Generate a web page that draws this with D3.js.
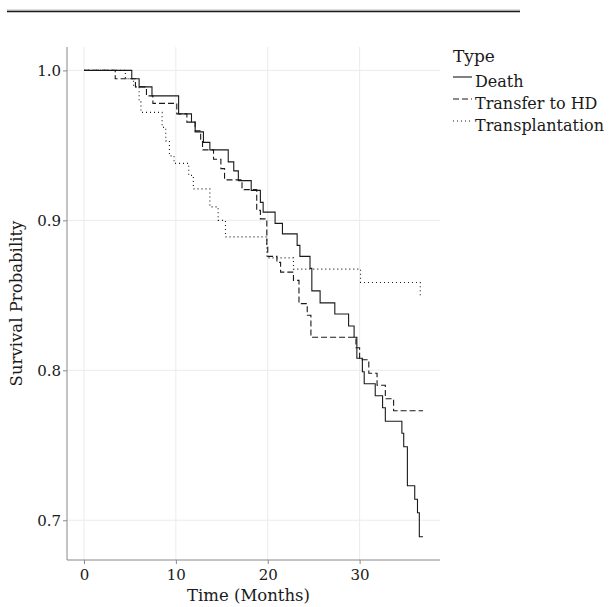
<!DOCTYPE html>
<html>
<head>
<meta charset="utf-8">
<script src="https://cdn.jsdelivr.net/npm/d3@7"></script>
<style>
  body { margin: 0; background: #fff; }
  text { font-family: "DejaVu Serif", serif; fill: #1a1a1a; }
</style>
</head>
<body>
<svg id="chart"></svg>
<script>
// Kaplan-Meier steps: time (months) and survival after each drop
const deathTime = [0, 5.2, 6.0, 7.4, 10.3, 11.7, 12.1, 13.0, 13.7, 15.7, 16.3, 16.8, 18.2, 19.2, 19.5, 20.8, 21.6, 23.2, 23.5, 24.6, 24.8, 25.7, 27.3, 28.8, 29.4, 29.7, 30.3, 30.5, 31.7, 32.5, 32.8, 34.6, 34.8, 35.2, 36.0, 36.3, 36.5, 36.9];
const deathSurv = [1.0, 0.9944, 0.989, 0.983, 0.971, 0.9655, 0.959, 0.952, 0.947, 0.939, 0.933, 0.9265, 0.92, 0.912, 0.9055, 0.898, 0.891, 0.8833, 0.876, 0.868, 0.853, 0.845, 0.8375, 0.8295, 0.822, 0.808, 0.799, 0.791, 0.783, 0.775, 0.766, 0.758, 0.749, 0.723, 0.714, 0.705, 0.689, 0.689];

const hdTime = [0, 3.4, 5.6, 6.8, 7.5, 10.1, 11.2, 12.1, 12.7, 12.9, 14.1, 14.9, 15.3, 17.2, 18.8, 19.2, 19.9, 20.0, 21.0, 21.4, 22.8, 23.4, 24.3, 24.7, 29.6, 30.0, 31.0, 31.9, 32.8, 33.7, 36.9];
const hdSurv = [1.0, 0.9944, 0.989, 0.983, 0.978, 0.971, 0.9655, 0.9597, 0.953, 0.947, 0.9407, 0.9345, 0.927, 0.9205, 0.9067, 0.901, 0.884, 0.876, 0.872, 0.8655, 0.86, 0.8445, 0.8367, 0.822, 0.815, 0.807, 0.798, 0.790, 0.781, 0.773, 0.773];

const txTime = [0, 4.5, 5.4, 6.0, 6.2, 8.5, 8.9, 9.3, 9.8, 11.4, 11.9, 13.7, 14.6, 15.4, 19.9, 22.8, 30.1, 36.6, 36.8];
const txSurv = [1.0, 0.9944, 0.989, 0.979, 0.972, 0.962, 0.953, 0.943, 0.938, 0.930, 0.921, 0.909, 0.900, 0.889, 0.875, 0.8675, 0.8586, 0.8497, 0.8497];

const typeNames = ["Death", "Transfer to HD", "Transplantation"];
const xTicks = [0, 10, 20, 30];
const yTicks = [0.7, 0.8, 0.9, 1.0];

const width = 615, height = 607;

const svg = d3.select("#chart").attr("width", width).attr("height", height);

// journal header rule
svg.append("line").attr("x1", 7).attr("x2", 520).attr("y1", 10).attr("y2", 10)
  .attr("stroke", "#bbb").attr("stroke-width", 1);
svg.append("line").attr("x1", 7).attr("x2", 520).attr("y1", 11.5).attr("y2", 11.5)
  .attr("stroke", "#1a1a1a").attr("stroke-width", 1.5);

const x = d3.scaleLinear().domain([-1.85, 38.75]).range([67, 440]);
const y = d3.scaleLinear().domain([0.6735, 1.0156]).range([560, 47]);

const x0 = x.range()[0], x1 = x.range()[1];
const y0 = y.range()[0], y1 = y.range()[1];

// grid
svg.append("g").selectAll("line").data(xTicks).join("line")
  .attr("x1", d => x(d)).attr("x2", d => x(d)).attr("y1", y1).attr("y2", y0)
  .attr("stroke", "#ebebeb").attr("stroke-width", 1);
svg.append("g").selectAll("line").data(yTicks).join("line")
  .attr("x1", x0).attr("x2", x1).attr("y1", d => y(d)).attr("y2", d => y(d))
  .attr("stroke", "#ebebeb").attr("stroke-width", 1);

// axes
const xAxis = svg.append("g").attr("transform", `translate(0,${y0})`)
  .call(d3.axisBottom(x).tickValues(xTicks).tickSize(4).tickPadding(5).tickFormat(d3.format("d")));
const yAxis = svg.append("g").attr("transform", `translate(${x0},0)`)
  .call(d3.axisLeft(y).tickValues(yTicks).tickSize(4).tickPadding(2).tickFormat(d3.format(".1f")));

[xAxis, yAxis].forEach(a => {
  a.select(".domain").remove();
  a.selectAll(".tick line").attr("stroke", "#888");
  a.selectAll(".tick text").style("font-family", "DejaVu Serif").style("font-size", "15px").attr("fill", "#333");
});
svg.append("line").attr("x1", x0).attr("x2", x1).attr("y1", y0).attr("y2", y0).attr("stroke", "#888");
svg.append("line").attr("x1", x0).attr("x2", x0).attr("y1", y1).attr("y2", y0).attr("stroke", "#888");

svg.append("text").attr("x", (x0 + x1) / 2 - 5).attr("y", 601)
  .attr("text-anchor", "middle").style("font-size", "16.5px").text("Time (Months)");
svg.append("text").attr("transform", `translate(22,${(y0 + y1) / 2}) rotate(-90)`)
  .attr("text-anchor", "middle").style("font-size", "16.5px").text("Survival Probability");

// curves
const series = [
  { name: typeNames[0], t: deathTime, s: deathSurv, dash: null },
  { name: typeNames[1], t: hdTime, s: hdSurv, dash: "6,3" },
  { name: typeNames[2], t: txTime, s: txSurv, dash: "1,3" }
];

const line = d3.line().curve(d3.curveStepAfter)
  .x(d => x(d[0])).y(d => y(d[1]));

svg.append("g").selectAll("path").data(series).join("path")
  .attr("d", d => line(d.t.map((t, i) => [t, d.s[i]])))
  .attr("fill", "none").attr("stroke", "#1a1a1a").attr("stroke-width", 1.1)
  .attr("stroke-dasharray", d => d.dash);

// legend
const lg = svg.append("g").attr("transform", "translate(453,0)");
lg.append("text").attr("x", 0).attr("y", 62).style("font-size", "17px").text("Type");
const item = lg.selectAll("g.item").data(series).join("g").attr("class", "item")
  .attr("transform", (d, i) => `translate(0,${87 + i * 22})`);
item.append("line").attr("x1", 0).attr("x2", 19).attr("y1", -10).attr("y2", -10)
  .attr("stroke", "#1a1a1a").attr("stroke-width", 1.1).attr("stroke-dasharray", d => d.dash);
item.append("text").attr("x", 22).attr("y", 0).style("font-size", "16px").text(d => d.name);
</script>
</body>
</html>
